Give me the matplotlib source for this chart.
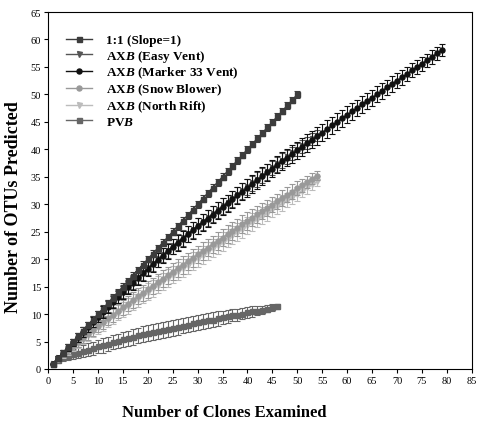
import matplotlib
matplotlib.use("Agg")
import matplotlib.pyplot as plt

plt.rcParams['font.family'] = ['Liberation Serif', 'DejaVu Serif']
plt.rcParams['mathtext.fontset'] = 'custom'
plt.rcParams['mathtext.it'] = 'Liberation Serif:bold:italic'
plt.rcParams['mathtext.rm'] = 'Liberation Serif:bold'

# ---------------- data ----------------
one_y = [1, 2, 3, 4, 5, 6, 7, 8, 9, 10, 11, 12, 13, 14, 15, 16, 17, 18, 19, 20,
         21, 22, 23, 24, 25, 26, 27, 28, 29, 30, 31, 32, 33, 34, 35, 36, 37, 38, 39, 40,
         41, 42, 43, 44, 45, 46, 47, 48, 49, 50]
one_err = [0.0, 0.3, 0.4, 0.5, 0.55, 0.6, 0.6, 0.6, 0.6, 0.6, 0.6, 0.6, 0.6, 0.6, 0.6, 0.6, 0.6,
           0.6, 0.6, 0.6, 0.6, 0.6, 0.6, 0.6, 0.6, 0.6, 0.6, 0.6, 0.6, 0.6, 0.6, 0.6, 0.6, 0.6,
           0.6, 0.6, 0.6, 0.6, 0.6, 0.6, 0.6, 0.6, 0.6, 0.6, 0.6, 0.6, 0.6, 0.6, 0.6, 0.6]

easy_y = [1.0, 2.0, 2.95, 3.9, 4.85, 5.8, 6.75, 7.7, 8.65, 9.6,
          10.5, 11.4, 12.3, 13.2, 14.1, 14.95, 15.8, 16.65, 17.5, 18.35,
          19.15, 19.95, 20.75, 21.55, 22.35, 23.1, 23.85, 24.6, 25.35, 26.1,
          26.8, 27.5, 28.2, 28.9, 29.6, 30.3, 31.0, 31.7, 32.4, 33.1,
          33.8, 34.5, 35.2, 35.9, 36.6, 37.3, 37.95, 38.6, 39.25, 39.9,
          40.55, 41.2, 41.85, 42.5]
easy_err = [0.0, 0.3, 0.5, 0.6, 0.7, 0.8, 0.85, 0.9, 0.95, 1.0,
            1.05, 1.1, 1.1, 1.15, 1.2, 1.2, 1.25, 1.25, 1.3, 1.3,
            1.3, 1.35, 1.35, 1.35, 1.4, 1.4, 1.4, 1.4, 1.45, 1.45,
            1.45, 1.45, 1.45, 1.45, 1.45, 1.45, 1.45, 1.45, 1.45, 1.45,
            1.4, 1.4, 1.4, 1.4, 1.35, 1.35, 1.3, 1.3, 1.25, 1.2,
            1.15, 1.1, 1.05, 1.0]

m33_y = [1.0, 2.0, 2.95, 3.9, 4.85, 5.8, 6.75, 7.7, 8.6, 9.5,
         10.4, 11.3, 12.2, 13.1, 14.0, 14.85, 15.7, 16.55, 17.4, 18.25,
         19.05, 19.85, 20.65, 21.45, 22.25, 23.0, 23.75, 24.5, 25.25, 26.0,
         26.7, 27.4, 28.1, 28.8, 29.5, 30.2, 30.9, 31.6, 32.3, 33.0,
         33.7, 34.4, 35.1, 35.8, 36.5, 37.2, 37.85, 38.5, 39.15, 39.8,
         40.45, 41.1, 41.75, 42.4, 43.05, 43.7, 44.35, 45.0, 45.65, 46.3,
         46.9, 47.5, 48.2, 48.8, 49.4, 50.0, 50.6, 51.3, 51.9, 52.5,
         53.1, 53.7, 54.4, 55.0, 55.6, 56.2, 56.8, 57.5, 58.1]
m33_err = [0.0, 0.3, 0.5, 0.6, 0.7, 0.8, 0.85, 0.9, 0.95, 1.0,
           1.05, 1.1, 1.1, 1.15, 1.2, 1.2, 1.25, 1.25, 1.3, 1.3,
           1.35, 1.35, 1.4, 1.4, 1.4, 1.45, 1.45, 1.45, 1.5, 1.5,
           1.5, 1.5, 1.55, 1.55, 1.55, 1.55, 1.6, 1.6, 1.6, 1.6,
           1.6, 1.6, 1.6, 1.6, 1.6, 1.6, 1.6, 1.6, 1.6, 1.6,
           1.6, 1.6, 1.6, 1.6, 1.6, 1.55, 1.55, 1.55, 1.55, 1.5,
           1.5, 1.5, 1.5, 1.45, 1.45, 1.45, 1.4, 1.4, 1.4, 1.35,
           1.35, 1.3, 1.3, 1.25, 1.25, 1.2, 1.2, 1.15, 1.1]

snow_y = [1.0, 1.86, 2.67, 3.45, 4.21, 4.95, 5.69, 6.4, 7.11, 7.82,
          8.51, 9.2, 9.88, 10.56, 11.23, 11.89, 12.55, 13.21, 13.86, 14.51,
          15.16, 15.8, 16.44, 17.08, 17.71, 18.35, 18.98, 19.6, 20.23, 20.85,
          21.47, 22.09, 22.7, 23.32, 23.93, 24.54, 25.15, 25.76, 26.36, 26.96,
          27.56, 28.16, 28.76, 29.35, 29.95, 30.54, 31.13, 31.72, 32.31, 32.9,
          33.48, 34.07, 34.65, 35.23]
snow_err = [0.0, 0.35, 0.55, 0.7, 0.8, 0.9, 1.0, 1.05, 1.1, 1.15,
            1.2, 1.25, 1.3, 1.3, 1.35, 1.4, 1.4, 1.45, 1.45, 1.5,
            1.5, 1.5, 1.55, 1.55, 1.55, 1.6, 1.6, 1.6, 1.6, 1.6,
            1.6, 1.6, 1.6, 1.6, 1.6, 1.6, 1.6, 1.6, 1.6, 1.6,
            1.55, 1.55, 1.5, 1.5, 1.45, 1.4, 1.4, 1.35, 1.3, 1.25,
            1.2, 1.1, 1.0, 0.9]

north_y = [1.0, 1.8, 2.59, 3.35, 4.08, 4.8, 5.52, 6.21, 6.9, 7.59,
           8.25, 8.92, 9.58, 10.24, 10.89, 11.53, 12.17, 12.81, 13.44, 14.07,
           14.71, 15.33, 15.95, 16.57, 17.18, 17.8, 18.41, 19.01, 19.62, 20.22,
           20.83, 21.43, 22.02, 22.62, 23.21, 23.8, 24.4, 24.99, 25.57, 26.15,
           26.73, 27.32, 27.9, 28.47, 29.05, 29.62, 30.2, 30.77, 31.34, 31.91,
           32.48, 33.05, 33.61, 34.17]
north_err = [0.0, 0.4, 0.6, 0.75, 0.85, 0.95, 1.05, 1.1, 1.15, 1.2,
             1.25, 1.3, 1.35, 1.35, 1.4, 1.45, 1.45, 1.5, 1.5, 1.55,
             1.55, 1.55, 1.6, 1.6, 1.6, 1.65, 1.65, 1.65, 1.65, 1.65,
             1.65, 1.65, 1.65, 1.65, 1.65, 1.65, 1.65, 1.65, 1.65, 1.6,
             1.6, 1.55, 1.55, 1.5, 1.45, 1.45, 1.4, 1.35, 1.3, 1.25,
             1.2, 1.1, 1.0, 0.9]

pvb_y = [1.0, 1.7, 2.1, 2.4, 2.7, 3.0, 3.2, 3.5, 3.8, 4.1,
         4.3, 4.6, 4.9, 5.1, 5.4, 5.6, 5.8, 6.1, 6.3, 6.5,
         6.7, 6.9, 7.1, 7.3, 7.5, 7.7, 7.9, 8.1, 8.3, 8.5,
         8.7, 8.9, 9.0, 9.2, 9.4, 9.6, 9.8, 9.9, 10.1, 10.3,
         10.5, 10.6, 10.8, 11.0, 11.2, 11.4]
pvb_err = [0.0, 0.5, 0.7, 0.85, 0.95, 1.05, 1.1, 1.15, 1.2, 1.25,
           1.3, 1.3, 1.35, 1.35, 1.4, 1.4, 1.4, 1.4, 1.45, 1.45,
           1.45, 1.45, 1.45, 1.45, 1.45, 1.45, 1.4, 1.4, 1.4, 1.4,
           1.35, 1.35, 1.3, 1.3, 1.25, 1.2, 1.15, 1.1, 1.05, 1.0,
           0.95, 0.85, 0.75, 0.65, 0.55, 0.45]

labels = ['1:1 (Slope=1)', 'AX$B$ (Easy Vent)', 'AX$B$ (Marker 33 Vent)',
          'AX$B$ (Snow Blower)', 'AX$B$ (North Rift)', 'PV$B$']
x_ticks = [0, 5, 10, 15, 20, 25, 30, 35, 40, 45, 50, 55, 60, 65, 70, 75, 80, 85]
y_ticks = [0, 5, 10, 15, 20, 25, 30, 35, 40, 45, 50, 55, 60, 65]

# ---------------- plot ----------------
fig = plt.figure(figsize=(4.8, 4.27), dpi=100)
ax = fig.add_axes([0.1, 0.1335, 0.883, 0.836])

series = [
    (one_y, one_err, '#3c3c3c', 's', 6),
    (easy_y, easy_err, '#555555', 'v', 4),
    (m33_y, m33_err, '#111111', 'o', 5),
    (snow_y, snow_err, '#999999', 'o', 3),
    (north_y, north_err, '#bcbcbc', 'v', 2),
    (pvb_y, pvb_err, '#666666', 's', 1),
]

handles = []
for (ys, es, col, mk, z), lab in zip(series, labels):
    xs = list(range(1, len(ys) + 1))
    c = ax.errorbar(xs, ys, yerr=es, color=col, marker=mk, markersize=3.6,
                    linewidth=1.0, elinewidth=0.8, capsize=2.2, capthick=0.8,
                    label=lab, zorder=z)
    handles.append(c.lines[0])

ax.set_xlim(0, 85)
ax.set_ylim(0, 65)
ax.set_xticks(x_ticks)
ax.set_yticks(y_ticks)
ax.tick_params(direction='out', length=3, width=0.8, labelsize=7.5, pad=2)
for s in ax.spines.values():
    s.set_linewidth(0.8)

ax.set_xlabel('Number of Clones Examined', fontsize=12, fontweight='bold')
ax.xaxis.set_label_coords(0.417, -0.097)
ax.set_ylabel('Number of OTUs Predicted', fontsize=13, fontweight='bold')
ax.yaxis.set_label_coords(-0.062, 0.457)

leg = ax.legend(handles, labels, loc='upper left', bbox_to_anchor=(0.0425, 0.938),
                frameon=False,
                prop={'family': 'Liberation Serif', 'weight': 'bold', 'size': 9.5},
                handlelength=2.0, handletextpad=1.0, labelspacing=0.1,
                borderaxespad=0.0, borderpad=0.0)

fig.savefig('out.png', dpi=100)
